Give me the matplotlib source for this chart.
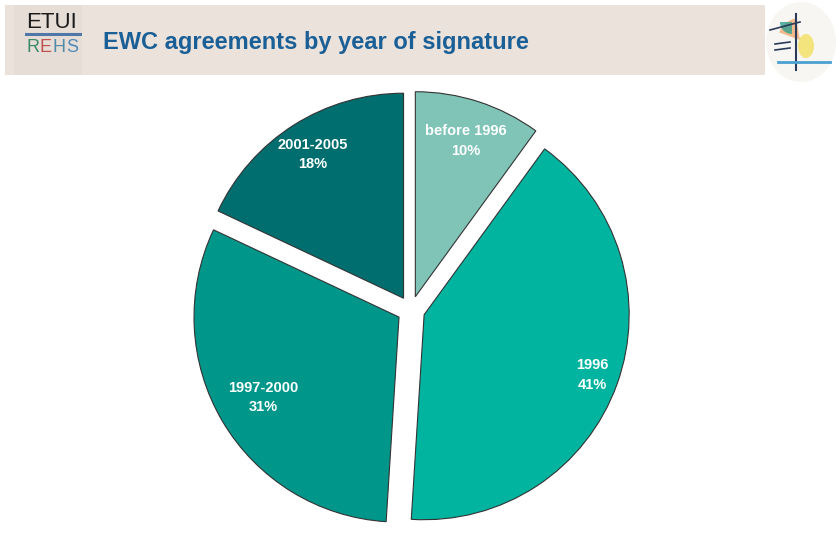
import numpy as np
import matplotlib.pyplot as plt
from matplotlib.patches import Rectangle, Ellipse, Wedge

# data
labels = ["before 1996", "1996", "1997-2000", "2001-2005"]
shares = [10, 41, 31, 18]
colors = ["#80c4b8", "#00b4a0", "#00968a", "#006e6e"]
label_dist = [0.80, 0.87, 0.77, 0.83]

plt.rcParams['font.family'] = ['Liberation Sans', 'DejaVu Sans']

W, H = 836, 549
fig = plt.figure(figsize=(W / 100, H / 100), dpi=100)
fig.patch.set_facecolor("white")

# header band
hdr = fig.add_axes([0, 0, 1, 1], zorder=0)
hdr.set_xlim(0, W)
hdr.set_ylim(H, 0)
hdr.axis("off")
hdr.add_patch(Rectangle((5, 5), 760, 70, color="#ebe2dc", lw=0))
grad = np.linspace(0, 1, 100)[None, :]
hdr.imshow(grad, extent=(5, 82, 75, 5), cmap="pink", alpha=0.35, aspect="auto")
hdr.add_patch(Rectangle((14, 5), 68, 70, color="#e6dcd5", lw=0, alpha=0.7))
hdr.text(26, 23, "ETUI", fontsize=16, color="#1a1a1a", va="center", ha="left")
hdr.plot([26, 80], [34, 34], color="#4f78a8", lw=2.2)
for ch, x, c in zip("REHS", [26, 39.5, 52.5, 66], ["#3a8a6a", "#c05050", "#4f8aa8", "#4f8ab8"]):
    hdr.text(x, 48, ch, fontsize=13, color=c, va="center", ha="left")
hdr.text(103, 43, "EWC agreements by year of signature", fontsize=17,
         fontweight="bold", color="#1a5f96", va="center", ha="left")
hdr.add_patch(Ellipse((801, 42), 70, 80, color="#f8f6f2", lw=0))
hdr.add_patch(Wedge((800, 40), 22, 200, 260, color="#f0a060", lw=0, alpha=0.7))
hdr.add_patch(Wedge((792, 22), 12, 90, 180, color="#30a090", lw=0, alpha=0.8))
hdr.add_patch(Ellipse((806, 46), 16, 24, color="#f2e060", lw=0, alpha=0.8))
hdr.plot([796, 796], [14, 70], color="#2a3a5a", lw=1.5)
hdr.plot([778, 830], [62, 62], color="#4aa0d0", lw=2)
hdr.plot([770, 800], [30, 22], color="#2a3a5a", lw=1.2)
hdr.plot([775, 790], [44, 42], color="#2a3a5a", lw=1.2)
hdr.plot([775, 790], [50, 48], color="#2a3a5a", lw=1.2)

# pie
ax = fig.add_axes([0.2219, 0.0246, 0.5395, 0.8215], zorder=1)
wedges, texts = ax.pie(
    shares,
    colors=colors,
    startangle=90,
    counterclock=False,
    explode=[0.068] * len(shares),
    wedgeprops=dict(edgecolor="#333333", linewidth=0.8),
)
for w, lab, s, d in zip(wedges, labels, shares, label_dist):
    ang = np.deg2rad((w.theta1 + w.theta2) / 2)
    cx, cy = w.center
    ax.text(cx + d * np.cos(ang), cy + d * np.sin(ang), f"{lab}\n{s}%",
            ha="center", va="center", color="white", fontsize=10.5,
            fontweight="bold", linespacing=1.5)
ax.set_xlim(-1.1, 1.1)
ax.set_ylim(-1.1, 1.1)
ax.set_aspect("auto")

fig.savefig("out.png", dpi=100)
